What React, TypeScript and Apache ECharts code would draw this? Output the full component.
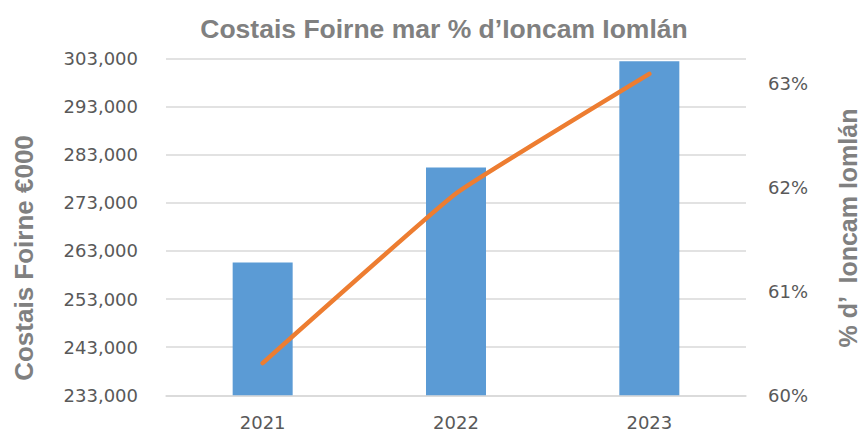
import React, { useEffect, useRef } from "react";
import * as echarts from "echarts";

const categories = ["2021", "2022", "2023"];
const staffCosts = [260600, 280300, 302400];
const pctOfIncome = [0.6031, 0.6194, 0.6309];
const leftTicks = { min: 233000, max: 303000, interval: 10000 };
const rightTicks = { min: 0.6, max: 0.6324, interval: 0.01 };

const titleText = "Costais Foirne mar % d’Ioncam Iomlán";
const leftAxisTitle = "Costais Foirne €000";
const rightAxisTitle = "% d’  Ioncam Iomlán";

export default function App() {
  const ref = useRef<HTMLDivElement>(null);
  useEffect(() => {
    if (!ref.current) return;
    const chart = echarts.init(ref.current, undefined, { renderer: "svg" });
    const labelStyle = { fontFamily: "DejaVu Sans", fontSize: 18, color: "#595959" };
    chart.setOption({
      animation: false,
      backgroundColor: "#ffffff",
      title: {
        text: titleText,
        left: 439,
        textAlign: "center",
        top: 10,
        textStyle: { fontFamily: "Liberation Sans", fontWeight: "bold", fontSize: 26.5, color: "#808080" },
      },
      grid: { left: 166, right: 118, top: 58.3, bottom: 36.7, containLabel: false },
      xAxis: {
        type: "category",
        data: categories,
        axisTick: { show: false },
        axisLine: { show: true, lineStyle: { color: "#d9d9d9", width: 1.5 } },
        axisLabel: { ...labelStyle, margin: 18 },
      },
      yAxis: [
        {
          type: "value",
          min: leftTicks.min,
          max: leftTicks.max,
          interval: leftTicks.interval,
          axisLine: { show: false },
          axisTick: { show: false },
          splitLine: { show: true, lineStyle: { color: "#d9d9d9", width: 1.5 } },
          axisLabel: {
            ...labelStyle,
            margin: 28,
            formatter: (v: number) => Math.round(v).toLocaleString("en-US"),
          },
        },
        {
          type: "value",
          position: "right",
          min: rightTicks.min,
          max: rightTicks.max,
          interval: rightTicks.interval,
          axisLine: { show: false },
          axisTick: { show: false },
          splitLine: { show: false },
          axisLabel: {
            ...labelStyle,
            margin: 22,
            formatter: (v: number) => {
              const p = v * 100;
              if (Math.abs(p - Math.round(p)) > 0.01) return "";
              return Math.round(p) + "%";
            },
          },
        },
      ],
      series: [
        {
          type: "bar",
          data: staffCosts,
          yAxisIndex: 0,
          barWidth: 60,
          itemStyle: { color: "#5b9bd5" },
        },
        {
          type: "line",
          data: pctOfIncome,
          yAxisIndex: 1,
          smooth: 0.1,
          symbol: "none",
          lineStyle: { color: "#ed7d31", width: 4.5, cap: "round" },
        },
      ],
      graphic: [
        {
          type: "text",
          x: 24,
          y: 258,
          rotation: Math.PI / 2,
          style: {
            text: leftAxisTitle,
            fontFamily: "Liberation Sans",
            fontWeight: "bold",
            fontSize: 26,
            fill: "#808080",
            align: "center",
            verticalAlign: "middle",
          },
        },
        {
          type: "text",
          x: 848,
          y: 228,
          rotation: Math.PI / 2,
          style: {
            text: rightAxisTitle,
            fontFamily: "Liberation Sans",
            fontWeight: "bold",
            fontSize: 25,
            fill: "#808080",
            align: "center",
            verticalAlign: "middle",
          },
        },
      ],
    });
    return () => chart.dispose();
  }, []);
  return (
    <div
      ref={ref}
      style={{ position: "fixed", left: 0, top: 0, width: 864, height: 432 }}
    />
  );
}
